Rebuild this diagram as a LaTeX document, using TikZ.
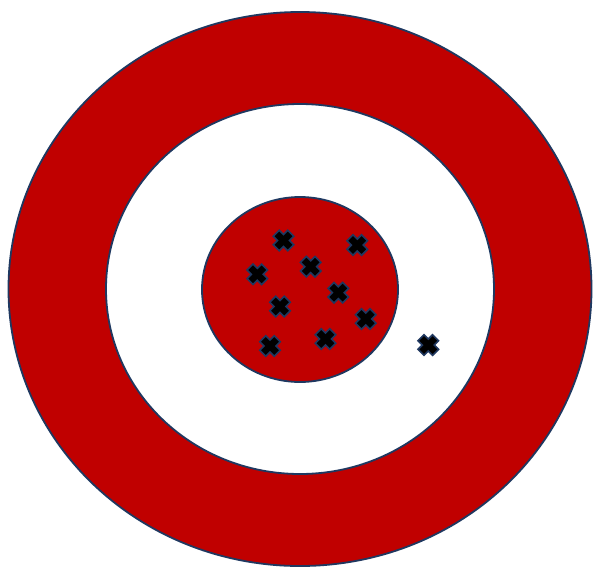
\documentclass[tikz,border=0pt]{standalone}
\definecolor{tred}{HTML}{C00000}
\definecolor{tnavy}{HTML}{1F3860}
\tikzset{
  ring/.style={draw=tnavy, line width=1.8pt},
  crossmark/.pic={
    \fill[black, draw=tnavy, line width=1.6pt, line join=miter, rotate=45]
      (4.2,10.3) -- (4.2,4.2) -- (10.3,4.2) -- (10.3,-4.2) -- (4.2,-4.2) -- (4.2,-10.3)
      -- (-4.2,-10.3) -- (-4.2,-4.2) -- (-10.3,-4.2) -- (-10.3,4.2) -- (-4.2,4.2) -- (-4.2,10.3) -- cycle;
  }
}
\begin{document}
\begin{tikzpicture}[x=1pt,y=-1pt]
\useasboundingbox (0,0) rectangle (593,568);
\fill[white] (0,0) rectangle (593,568);
\draw[ring, fill=tred] (300,289) ellipse [x radius=291.5, y radius=277];
\draw[ring, fill=white] (300,289) ellipse [x radius=194, y radius=185];
\draw[ring, fill=tred] (300,289.5) ellipse [x radius=98, y radius=92.5];
\foreach \p in {(283.5,240.5),(357.3,245),(257.3,274.3),(310.7,266.7),(338.3,292.7),(280,306.5),(365.7,319),(270,346),(325.5,339),(428.3,345)}
  \pic at \p {crossmark};
\end{tikzpicture}
\end{document}
